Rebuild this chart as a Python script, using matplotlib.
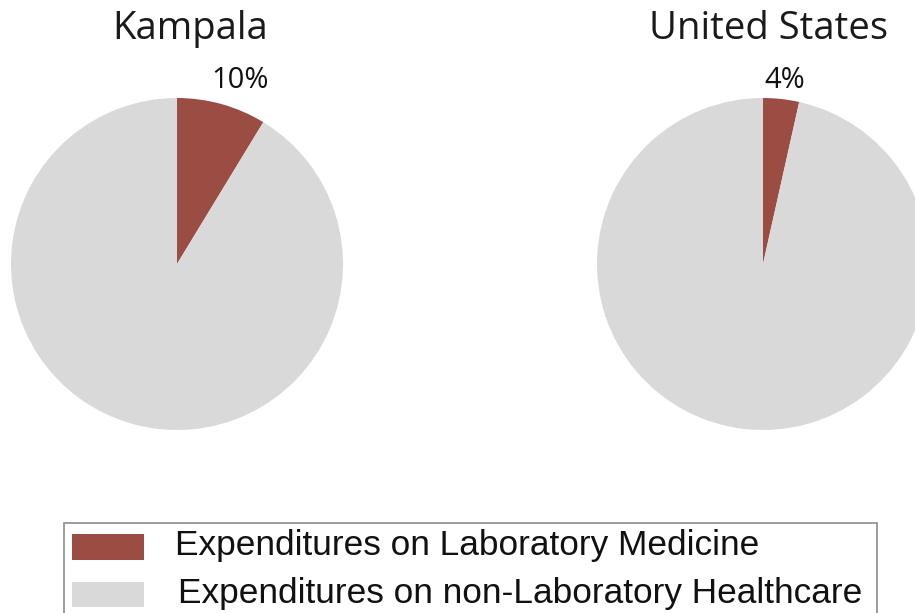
import matplotlib
matplotlib.use("Agg")
import matplotlib.pyplot as plt
from matplotlib.patches import Rectangle

# Data
regions = ["Kampala", "United States"]
lab_share = [8.7, 3.5]          # wedge sizes (percent)
pct_labels = ["10%", "4%"]       # printed labels
series = ["Expenditures on Laboratory Medicine",
          "Expenditures on non-Laboratory Healthcare"]
colors = ["#9B4D43", "#D9D9D9"]

W, H = 915, 613
fig = plt.figure(figsize=(W / 100, H / 100), dpi=100)

centers = [(177, 264), (763, 264)]
R = 166
title_x = [190, 769]
label_x = [240, 785]

for i, name in enumerate(regions):
    cx, cy = centers[i]
    ax = fig.add_axes([(cx - R) / W, (H - cy - R) / H, 2 * R / W, 2 * R / H])
    ax.pie([lab_share[i], 100 - lab_share[i]], colors=colors, startangle=90,
           counterclock=False, radius=1.0, wedgeprops=dict(linewidth=0))
    ax.set_xlim(-1, 1)
    ax.set_ylim(-1, 1)
    ax.set_aspect("auto")
    ax.axis("off")
    fig.text(title_x[i] / W, 1 - 29 / H, name, ha="center", va="center",
             fontsize=27.5, family=["Open Sans", "DejaVu Sans"], color="#1a1a1a")
    fig.text(label_x[i] / W, 1 - 81 / H, pct_labels[i], ha="center", va="center",
             fontsize=21, family=["Open Sans", "DejaVu Sans"], color="#111111")

# Legend drawn by hand (box cut off at the bottom of the picture)
def fx(px):
    return px / W

def fy(py):
    return 1 - py / H

frame = Rectangle((fx(64), fy(640)), fx(877) - fx(64), fy(523) - fy(640),
                  transform=fig.transFigure, facecolor="white",
                  edgecolor="#8c8c8c", linewidth=1.2, zorder=1)
fig.add_artist(frame)
patch_y = [(534, 560), (582, 607)]
text_pos = [(175, 545), (178, 593)]
for j, (lab, c) in enumerate(zip(series, colors)):
    top, bot = patch_y[j]
    fig.add_artist(Rectangle((fx(72), fy(bot)), fx(144) - fx(72), fy(top) - fy(bot),
                             transform=fig.transFigure, facecolor=c,
                             edgecolor="none", zorder=2))
    tx, ty = text_pos[j]
    fig.text(fx(tx), fy(ty), lab, ha="left", va="center",
             fontsize=25.4, family=["Liberation Sans", "DejaVu Sans"],
             color="#111111", zorder=3)

fig.savefig("out.png", dpi=100)
